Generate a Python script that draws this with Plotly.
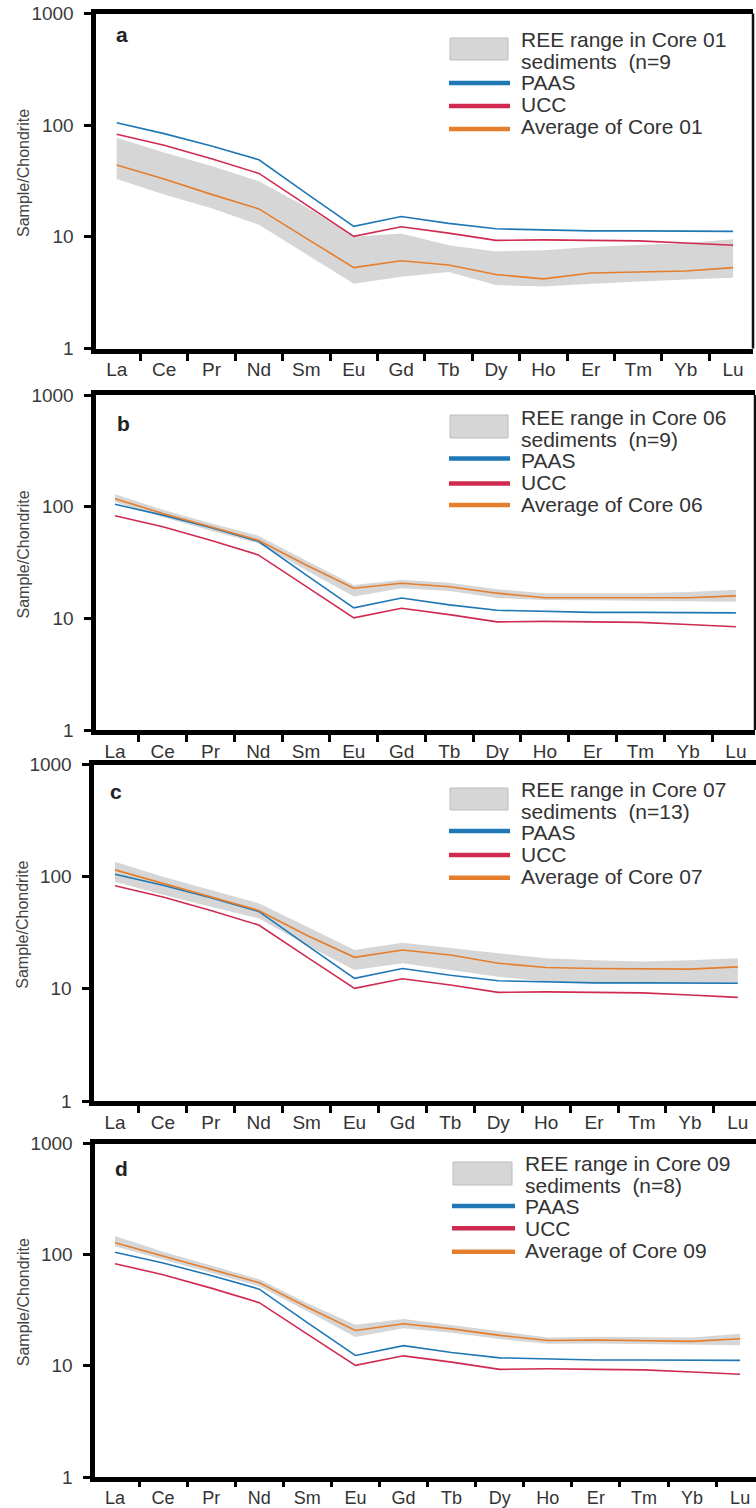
import plotly.graph_objects as go

# ---------------- data ----------------
REE = ["La", "Ce", "Pr", "Nd", "Sm", "Eu", "Gd", "Tb", "Dy", "Ho", "Er", "Tm", "Yb", "Lu"]

PAAS = [105, 84, 65, 49, 24.5, 12.4, 15.2, 13.2, 11.8, 11.5, 11.3, 11.3, 11.3, 11.2]
UCC = [83, 66, 50, 37, 19.3, 10.1, 12.3, 10.8, 9.3, 9.4, 9.3, 9.2, 8.8, 8.4]

core01_avg = [44, 33, 24, 17.8, 9.7, 5.3, 6.1, 5.6, 4.6, 4.2, 4.75, 4.85, 4.95, 5.3]
core01_max = [77, 57, 43, 31.5, 18.5, 10.0, 10.7, 8.4, 7.4, 7.6, 8.1, 8.5, 8.8, 9.5]
core01_min = [33, 24, 18, 12.8, 7.0, 3.8, 4.4, 4.85, 3.7, 3.6, 3.8, 4.0, 4.15, 4.3]

core06_avg = [118, 87, 66, 50, 30, 18.6, 20.6, 19.2, 16.8, 15.3, 15.3, 15.2, 15.3, 15.9]
core06_max = [129, 94, 71, 55, 33, 19.9, 22.0, 20.8, 18.2, 16.8, 16.8, 16.8, 17.2, 18.0]
core06_min = [110, 81, 61, 47, 27, 15.7, 18.6, 17.6, 15.2, 14.6, 14.5, 14.4, 14.3, 14.1]

core07_avg = [115, 87, 66, 50, 30, 19.1, 22.2, 20.0, 16.9, 15.5, 15.2, 15.0, 15.0, 15.7]
core07_max = [136, 100, 76, 58, 36, 22.2, 25.7, 23.0, 20.7, 18.7, 18.0, 17.5, 18.0, 18.7]
core07_min = [90, 69, 54, 42.5, 24.5, 14.7, 16.9, 14.7, 12.8, 11.6, 11.2, 11.2, 11.2, 11.2]

core09_avg = [128, 97, 74, 56, 33.6, 20.8, 23.9, 21.5, 18.8, 16.9, 17.1, 16.9, 16.6, 17.5]
core09_max = [147, 106, 80, 60, 36.5, 23.4, 26.4, 23.2, 20.2, 18.0, 18.3, 18.1, 18.0, 19.4]
core09_min = [119, 90, 69, 52, 31, 18.2, 21.8, 19.8, 17.4, 15.8, 15.9, 15.7, 15.5, 15.3]

panel_letters = ["a", "b", "c", "d"]
core_names = ["Core 01", "Core 06", "Core 07", "Core 09"]
core_counts = ["(n=9", "(n=9)", "(n=13)", "(n=8)"]
avgs = [core01_avg, core06_avg, core07_avg, core09_avg]
maxs = [core01_max, core06_max, core07_max, core09_max]
mins = [core01_min, core06_min, core07_min, core09_min]

y_tickvals = [1, 10, 100, 1000]
y_ticktext = ["1", "10", "100", "1000"]
y_title = "Sample/Chondrite"

# ---------------- style ----------------
W, H = 756, 1508
C_PAAS = "#1f77b4"
C_UCC = "#d02a50"
C_AVG = "#e57e2c"
C_BAND = "#d6d6d6"
FONT = "Liberation Sans, Arial, sans-serif"


def px(x):
    return x / W


def py(y):
    return 1 - y / H


# per-panel geometry (pixels)
panels = [
    dict(top=13.5, bot=348.5, left=95.5, right=753, r0=-0.447, r1=13.42, rframe=True,
         xlen=7, xfont=19,
         box=(450, 508, 38, 60), line_x=(449, 510), text_x=519,
         t_mid=83, lp=83, lu=106, la=129, letter=(114, 35)),
    dict(top=395, bot=730, left=95.5, right=755, r0=-0.408, r1=13.40, rframe=True,
         xlen=7, xfont=19,
         box=(450, 508, 415, 438), line_x=(449, 510), text_x=519,
         t_mid=461.5, lp=458.5, lu=483.5, la=505, letter=(115, 423)),
    dict(top=764.5, bot=1101, left=93.5, right=756, r0=-0.449, r1=13.38, rframe=False,
         xlen=7, xfont=19,
         box=(450, 508, 788, 810), line_x=(449, 510), text_x=519,
         t_mid=832.8, lp=831, lu=855, la=877.7, letter=(108, 791)),
    dict(top=1143.5, bot=1477, left=94.5, right=756, r0=-0.426, r1=13.33, rframe=False,
         xlen=5, xfont=18,
         box=(453, 512, 1162, 1185), line_x=(452, 515), text_x=523,
         t_mid=1206.8, lp=1206, lu=1228.3, la=1251.7, letter=(113, 1168)),
]

fig = go.Figure()
layout = dict(
    template="none",
    width=W, height=H,
    margin=dict(l=0, r=0, t=0, b=0, autoexpand=False),
    paper_bgcolor="white", plot_bgcolor="white",
    showlegend=False,
    font=dict(family=FONT, color="#333333"),
)
shapes = []
annotations = []

for i, p in enumerate(panels):
    k = "" if i == 0 else str(i + 1)
    xa, ya = "x" + k, "y" + k
    fig.add_trace(go.Scatter(x=REE, y=mins[i], mode="lines", line=dict(width=0, color=C_BAND),
                             xaxis=xa, yaxis=ya, hoverinfo="skip"))
    fig.add_trace(go.Scatter(x=REE, y=maxs[i], mode="lines", line=dict(width=0, color=C_BAND),
                             fill="tonexty", fillcolor=C_BAND, xaxis=xa, yaxis=ya,
                             name="REE range in " + core_names[i] + " sediments"))
    fig.add_trace(go.Scatter(x=REE, y=PAAS, mode="lines", line=dict(width=1.6, color=C_PAAS),
                             xaxis=xa, yaxis=ya, name="PAAS"))
    fig.add_trace(go.Scatter(x=REE, y=UCC, mode="lines", line=dict(width=1.6, color=C_UCC),
                             xaxis=xa, yaxis=ya, name="UCC"))
    fig.add_trace(go.Scatter(x=REE, y=avgs[i], mode="lines", line=dict(width=1.6, color=C_AVG),
                             xaxis=xa, yaxis=ya, name="Average of " + core_names[i]))

    layout["xaxis" + k] = dict(
        domain=[px(p["left"]), px(p["right"])], anchor=ya, automargin=False,
        type="category", categoryorder="array", categoryarray=REE,
        range=[p["r0"], p["r1"]], tickson="boundaries",
        showline=True, linewidth=5, linecolor="black", mirror=True,
        ticks="outside", ticklen=p["xlen"], tickwidth=3, tickcolor="black",
        showgrid=False, zeroline=False,
        tickfont=dict(size=p["xfont"], color="#333333", family=FONT),
    )
    layout["yaxis" + k] = dict(
        domain=[py(p["bot"]), py(p["top"])], anchor=xa, automargin=False,
        type="log", range=[0, 3],
        tickmode="array", tickvals=y_tickvals, ticktext=y_ticktext,
        showline=True, linewidth=5, linecolor="black", mirror=False,
        ticks="outside", ticklen=7, tickwidth=3, tickcolor="black",
        ticklabelstandoff=6,
        showgrid=False, zeroline=False,
        tickfont=dict(size=19, color="#3a3a3a", family=FONT),
    )

    if p["rframe"]:
        shapes.append(dict(type="line", xref=xa + " domain", yref=ya + " domain",
                           x0=1, x1=1, y0=0, y1=1, line=dict(color="#111111", width=2.5)))

    annotations.append(dict(text=y_title, x=px(23), y=py((p["top"] + p["bot"]) / 2 - 8),
                            xref="paper", yref="paper", showarrow=False, textangle=-90,
                            xanchor="center", yanchor="middle",
                            font=dict(size=16, color="#444444", family=FONT)))
    annotations.append(dict(text="<b>" + panel_letters[i] + "</b>", x=px(p["letter"][0]),
                            y=py(p["letter"][1]), xref="paper", yref="paper", showarrow=False,
                            xanchor="left", yanchor="middle",
                            font=dict(size=21, color="#222222", family=FONT)))

    # legend block: swatches
    bx0, bx1, by0, by1 = p["box"]
    shapes.append(dict(type="rect", xref="paper", yref="paper",
                       x0=px(bx0), x1=px(bx1), y0=py(by1), y1=py(by0),
                       fillcolor=C_BAND, line=dict(color="#bdbdbd", width=1)))
    lx0, lx1 = p["line_x"]
    for ly, col in [(p["lp"], C_PAAS), (p["lu"], C_UCC), (p["la"], C_AVG)]:
        shapes.append(dict(type="line", xref="paper", yref="paper",
                           x0=px(lx0), x1=px(lx1), y0=py(ly), y1=py(ly),
                           line=dict(color=col, width=4.5)))
    # legend block: one text with five lines (base size sets line spacing)
    lines = ["REE range in " + core_names[i], "sediments  " + core_counts[i],
             "PAAS", "UCC", "Average of " + core_names[i]]
    block = "<br>".join('<span style="font-size:21px">' + t.replace("  ", "&nbsp; ") + "</span>"
                        for t in lines)
    annotations.append(dict(text=block, x=px(p["text_x"]), y=py(p["t_mid"]), xref="paper",
                            yref="paper", showarrow=False, xanchor="left", yanchor="middle",
                            align="left", font=dict(size=16.7, color="#333333", family=FONT)))

layout["shapes"] = shapes
layout["annotations"] = annotations
fig.update_layout(**layout)

fig.write_html(
    "out.html",
    config={"displayModeBar": False},
    post_script="document.body.style.margin='0';document.body.style.padding='0';"
                "document.documentElement.style.overflow='hidden';document.body.style.overflow='hidden';",
)
